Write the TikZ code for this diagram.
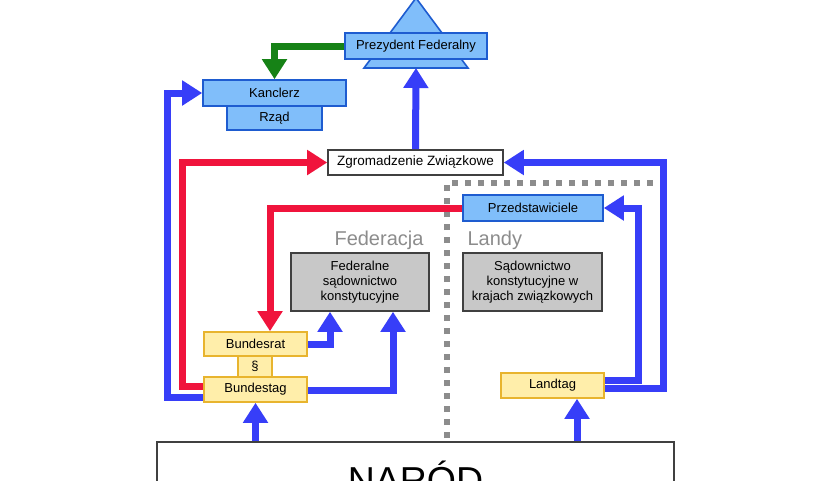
\documentclass[tikz,border=0pt]{standalone}
\usepackage{fontspec}
\setmainfont{Liberation Sans}
\usetikzlibrary{arrows.meta}

\definecolor{organfill}{RGB}{128,190,250}
\definecolor{organline}{RGB}{30,92,208}
\definecolor{parlfill}{RGB}{255,238,170}
\definecolor{parlline}{RGB}{232,180,46}
\definecolor{courtfill}{RGB}{200,200,200}
\definecolor{flowblue}{RGB}{55,62,248}
\definecolor{flowred}{RGB}{240,20,60}
\definecolor{flowgreen}{RGB}{22,130,22}

\begin{document}
\begin{tikzpicture}[x=1pt,y=-1pt,
  box/.style={draw, line width=1.6pt, inner sep=0pt, align=center, font=\fontsize{13}{15}\selectfont},
  organ/.style={box, draw=organline, fill=organfill},
  parl/.style={box, draw=parlline, fill=parlfill},
  court/.style={box, draw=black!75, fill=courtfill},
  assembly/.style={box, draw=black!75, fill=white},
  flow/.style={line width=7pt, -{Triangle[length=20pt,width=24pt]}},
  region/.style={draw=black!45, line width=6pt, dash pattern=on 6pt off 7pt},
  regionlabel/.style={black!45, font=\fontsize{20}{24}\selectfont}]

\fill[white] (0,0) rectangle (840,480);
\useasboundingbox (0,0) rectangle (840,480);

% federation / states border
\draw[region] (447,438) -- (447,183) -- (673,183);
\node[regionlabel, anchor=base east] (federacja) at (427,245.5) {Federacja};
\node[regionlabel, anchor=base west] (landy) at (464,245.5) {Landy};

% president
\draw[organline, fill=organfill, line width=1.6pt] (416,-2) -- (468,68) -- (364,68) -- cycle;
\coordinate (tribase) at (416,68);
\node[organ, minimum width=142pt, minimum height=26pt] (prezydent) at (416,46) {Prezydent Federalny};

% government
\node[organ, minimum width=95pt, minimum height=24pt] (rzad) at (274.5,118) {Rząd};
\node[organ, minimum width=143pt, minimum height=26pt] (kanclerz) at (274.5,93) {Kanclerz};

\node[assembly, minimum width=175pt, minimum height=25pt, font=\fontsize{13.5}{16}\selectfont] (zgromadzenie) at (415.5,162.5) {Zgromadzenie Związkowe};
\node[organ, minimum width=140pt, minimum height=26pt] (przedstawiciele) at (533,208) {Przedstawiciele};

% courts
\node[court, minimum width=138pt, minimum height=58pt] (fedsad) at (360,282) {Federalne\\sądownictwo\\konstytucyjne};
\node[court, minimum width=139pt, minimum height=58pt] (landsad) at (532.5,282) {Sądownictwo\\konstytucyjne w\\krajach związkowych};

% parliaments
\node[parl, minimum width=34pt, minimum height=21pt] (paragraf) at (255,366.5) {§};
\node[parl, minimum width=103pt, minimum height=24pt] (bundesrat) at (255.5,344) {Bundesrat};
\node[parl, minimum width=103pt, minimum height=25pt] (bundestag) at (255.5,389.5) {Bundestag};
\node[parl, minimum width=103pt, minimum height=25pt] (landtag) at (552.5,385.5) {Landtag};

% people
\node[assembly, minimum width=517pt, minimum height=75pt, text height=27pt, text depth=0pt, font=\fontsize{37.5}{40}\selectfont] (narod) at (415.5,479.5) {NARÓD};

% flows
\draw[flow, flowgreen] (prezydent.west) -| (kanclerz.north);
\draw[flow, flowblue] (zgromadzenie.north) -- (tribase);
\draw[flow, flowred] ([yshift=3.5pt]bundestag.west) -| (182,162.5) -- (zgromadzenie.west);
\draw[flow, flowblue] ([yshift=-7.5pt]bundestag.west) -| (167,93) -- (kanclerz.west);
\draw[flow, flowred] (przedstawiciele.west) -| ([xshift=14.5pt]bundesrat.north);
\draw[flow, flowblue] (bundesrat.east) -| ([xshift=-30pt]fedsad.south);
\draw[flow, flowblue] ([yshift=-0.5pt]bundestag.east) -| ([xshift=33pt]fedsad.south);
\draw[flow, flowblue] (bundestag.south |- narod.north) -- (bundestag.south);
\draw[flow, flowblue] ([xshift=24.5pt]landtag.south |- narod.north) -- ([xshift=24.5pt]landtag.south);
\draw[flow, flowblue] ([yshift=5.5pt]landtag.east) -| (638,208) -- (przedstawiciele.east);
\draw[flow, flowblue] ([yshift=-3pt]landtag.east) -| (663,162.5) -- (zgromadzenie.east);
\end{tikzpicture}
\end{document}
